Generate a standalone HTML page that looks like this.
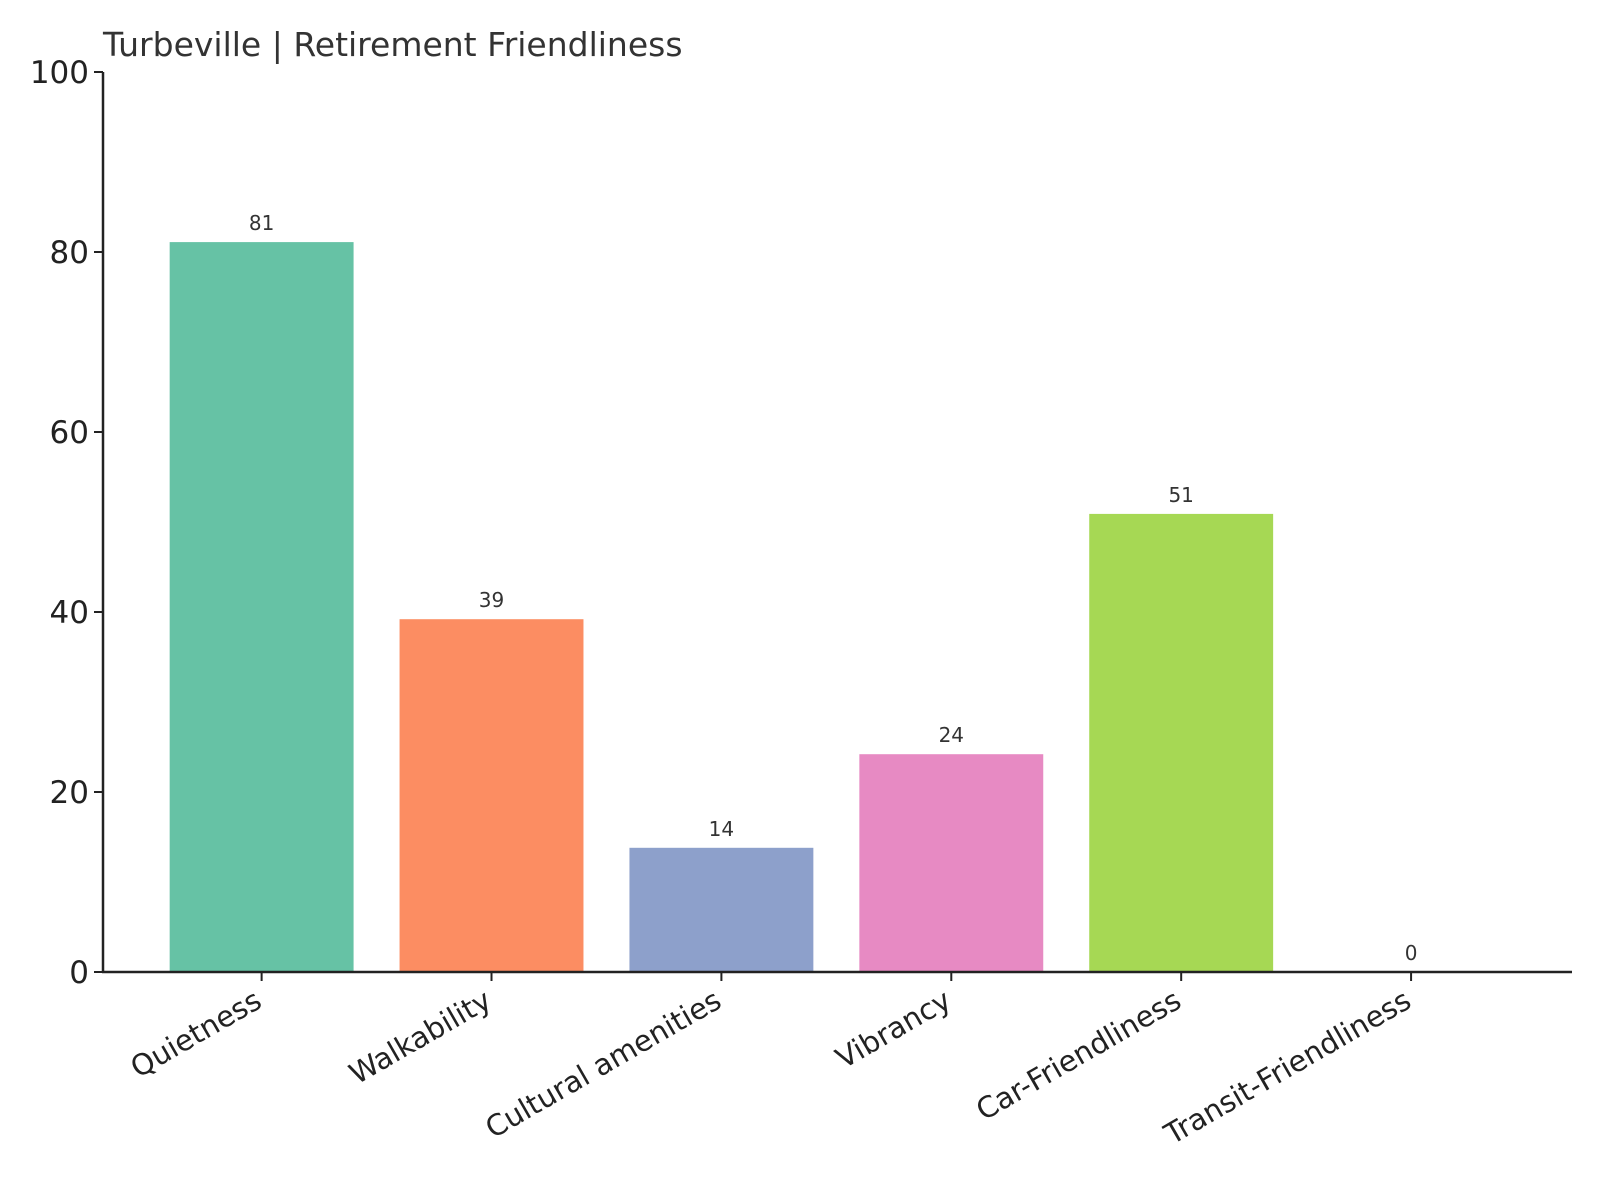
<!DOCTYPE html>
<html><head><meta charset="utf-8"><style>
body{margin:0;background:#fff;}
svg{display:block;font-family:"DejaVu Sans","Liberation Sans",sans-serif;}
</style></head><body>
<svg id="chart" width="1600" height="1200" viewBox="0 0 1600 1200">
<rect width="1600" height="1200" fill="#fff"/>
<text x="103" y="56" font-size="33" fill="#333">Turbeville | Retirement Friendliness</text>
<g id="plot"></g>
</svg>
<script>
const categories = ["Quietness","Walkability","Cultural amenities","Vibrancy","Car-Friendliness","Transit-Friendliness"];
const values = [81.1, 39.2, 13.8, 24.2, 50.9, 0];
const valueLabels = ["81","39","14","24","51","0"];
const yTicks = [0,20,40,60,80,100];
const colors = ["#66c2a5","#fc8d62","#8da0cb","#e78ac3","#a6d854","#ffd92f"];

const NS="http://www.w3.org/2000/svg";
const g=document.getElementById('plot');
const pLeft=103,pRight=1572,pTop=72,pBottom=972;
const yMin=0,yMax=100;
const xMin=-0.69,xMax=categories.length-1+0.7;
function xs(i){return pLeft+(i-xMin)/(xMax-xMin)*(pRight-pLeft);}
function ys(v){return pBottom-(v-yMin)/(yMax-yMin)*(pBottom-pTop);}
const bw=0.8*(xs(1)-xs(0));
function mk(tag,attrs){const e=document.createElementNS(NS,tag);for(const k in attrs)e.setAttribute(k,attrs[k]);g.appendChild(e);return e;}

categories.forEach((c,i)=>{
  const r=mk('rect',{x:xs(i)-bw/2,y:ys(values[i]),width:bw,height:ys(0)-ys(values[i]),fill:colors[i]});
  
  
  const t=mk('text',{x:xs(i),y:ys(values[i])-12,'text-anchor':'middle','font-size':'20',fill:'#333'});
  t.textContent=valueLabels[i];
  
  
  const tk=mk('line',{x1:xs(i),x2:xs(i),y1:pBottom,y2:pBottom+9,stroke:'#222','stroke-width':2});
  
  
  const lx=xs(i)+2,ly=pBottom+34;
  const lb=mk('text',{x:lx,y:ly,'text-anchor':'end','font-size':'29',fill:'#222',transform:`rotate(-30 ${lx} ${ly})`});
  lb.textContent=c;
  
  
});
yTicks.forEach(v=>{
  const tk=mk('line',{x1:pLeft-9,x2:pLeft,y1:ys(v),y2:ys(v),stroke:'#222','stroke-width':2});
  
  
  const t=mk('text',{x:pLeft-14,y:ys(v)+11,'text-anchor':'end','font-size':'31',fill:'#222'});
  t.textContent=v;
  
  
});
const ya=mk('line',{x1:pLeft,x2:pLeft,y1:pTop,y2:pBottom+1,stroke:'#222','stroke-width':2.5});


const xa=mk('line',{x1:pLeft-1,x2:pRight,y1:pBottom,y2:pBottom,stroke:'#222','stroke-width':2.5});


</script>
</body></html>
